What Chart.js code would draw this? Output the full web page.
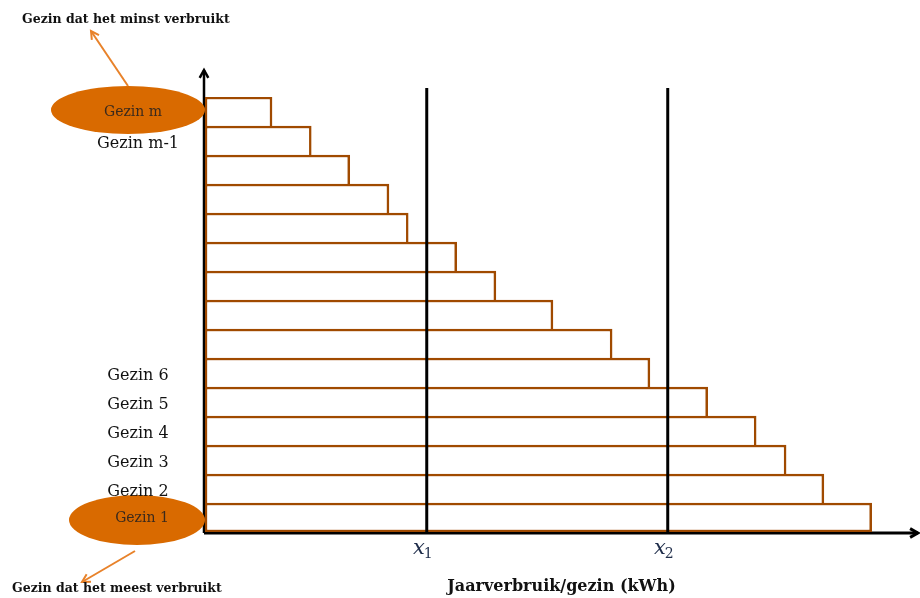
<!DOCTYPE html>
<html>
<head>
<meta charset="utf-8">
<script src="https://cdn.jsdelivr.net/npm/chart.js@4.4.1/dist/chart.umd.min.js"></script>
<style>
  html, body { margin: 0; padding: 0; background: #fff; }
  #wrap { width: 920px; height: 598px; position: relative; }
</style>
</head>
<body>
<div id="wrap"><canvas id="grafiek"></canvas></div>
<script>
// huishoudens van boven (minst verbruik) naar onder (meest verbruik)
const huishoudens = [
  "Gezin m", "Gezin m-1", "", "", "", "", "", "", "",
  "Gezin 6", "Gezin 5", "Gezin 4", "Gezin 3", "Gezin 2", "Gezin 1",
];
const verbruik = [
  9.4, 14.9, 20.3, 25.8, 28.5, 35.3, 40.8, 48.8, 57.1, 62.4,
  70.5, 77.3, 81.5, 86.8, 93.5,
];
// grenswaarden op de x-as
const grenzen = [31.1, 64.9];
const grensLabels = ["1", "2"];

const BRUIN = "#a04a00";
const ORANJE = "#d96a00";
const PIJL = "#e8822a";
const SERIF = "'DejaVu Serif', 'Liberation Serif', serif";

function pijl(ctx, x1, y1, x2, y2, kleur, breedte, kop) {
  ctx.save();
  ctx.strokeStyle = kleur;
  ctx.lineWidth = breedte;
  ctx.beginPath();
  ctx.moveTo(x1, y1);
  ctx.lineTo(x2, y2);
  ctx.stroke();
  const hoek = Math.atan2(y2 - y1, x2 - x1);
  ctx.beginPath();
  ctx.moveTo(x2 - kop * Math.cos(hoek - 0.5), y2 - kop * Math.sin(hoek - 0.5));
  ctx.lineTo(x2, y2);
  ctx.lineTo(x2 - kop * Math.cos(hoek + 0.5), y2 - kop * Math.sin(hoek + 0.5));
  ctx.stroke();
  ctx.restore();
}

const assenPlugin = {
  id: "assen",
  beforeDatasetsDraw(chart) {
    const { ctx, chartArea: a } = chart;
    // y-as met pijl
    pijl(ctx, a.left - 1, a.bottom + 1, a.left - 1, 70, "#000", 2.5, 9);
    // x-as met pijl
    pijl(ctx, a.left - 1, a.bottom + 1, 918, a.bottom + 1, "#000", 3, 9);
  },
  afterDatasetsDraw(chart) {
    const { ctx, chartArea: a, scales } = chart;
    const x = scales.x, y = scales.y;

    // verticale grenslijnen x1, x2
    ctx.save();
    ctx.strokeStyle = "#000";
    ctx.lineWidth = 3;
    grenzen.forEach((g, i) => {
      const px = x.getPixelForValue(g);
      ctx.beginPath();
      ctx.moveTo(px, 88);
      ctx.lineTo(px, a.bottom);
      ctx.stroke();

      // label x_i
      ctx.fillStyle = "#1f2d4a";
      ctx.textBaseline = "alphabetic";
      ctx.textAlign = "right";
      ctx.font = "italic 21px " + SERIF;
      ctx.fillText("x", px - 2, 554);
      ctx.textAlign = "left";
      ctx.font = "14px " + SERIF;
      ctx.fillText(grensLabels[i], px - 3, 558);
    });
    ctx.restore();

    // ovalen voor eerste en laatste gezin
    const ovalen = [
      { idx: 0, cx: 128, cy: 110, rx: 77, ry: 24, tx: 133 },
      { idx: huishoudens.length - 1, cx: 137, cy: 520, rx: 68, ry: 25, tx: 142 },
    ];
    ctx.save();
    ovalen.forEach((o) => {
      ctx.fillStyle = ORANJE;
      ctx.beginPath();
      ctx.ellipse(o.cx, o.cy, o.rx, o.ry, 0, 0, Math.PI * 2);
      ctx.fill();
    });
    ctx.restore();

    // labels van de gezinnen
    ctx.save();
    ctx.textAlign = "center";
    ctx.textBaseline = "middle";
    huishoudens.forEach((lbl, i) => {
      if (!lbl) return;
      const py = y.getPixelForValue(i);
      const ovaal = ovalen.find((o) => o.idx === i);
      if (ovaal) {
        ctx.fillStyle = "#3b2a1c";
        ctx.font = "14px " + SERIF;
        ctx.fillText(lbl, ovaal.tx, py + 1);
      } else {
        ctx.fillStyle = "#111";
        ctx.font = "16px " + SERIF;
        ctx.fillText(lbl, 138, py + 3);
      }
    });
    ctx.restore();

    // toelichtende teksten met pijlen
    pijl(ctx, 128, 86, 91, 31, PIJL, 2, 9);
    pijl(ctx, 135, 551, 82, 582, PIJL, 2, 9);
    ctx.save();
    ctx.fillStyle = "#111";
    ctx.font = "bold 12.5px " + SERIF;
    ctx.textBaseline = "middle";
    ctx.textAlign = "left";
    ctx.fillText("Gezin dat het minst verbruikt", 22, 20);
    ctx.fillText("Gezin dat het meest verbruikt", 12, 589);
    ctx.restore();
  },
};

new Chart(document.getElementById("grafiek"), {
  type: "bar",
  data: {
    labels: huishoudens,
    datasets: [
      {
        data: verbruik,
        backgroundColor: "#fff",
        borderColor: BRUIN,
        borderSkipped: false,
        borderWidth: (c) => ({
          top: 2.5,
          right: 2.5,
          left: 2.5,
          bottom: c.dataIndex === huishoudens.length - 1 ? 2.5 : 0,
        }),
        barPercentage: 1,
        categoryPercentage: 1,
      },
    ],
  },
  options: {
    indexAxis: "y",
    responsive: true,
    maintainAspectRatio: false,
    animation: false,
    layout: { padding: { top: 97, right: 2, left: 0, bottom: 0 } },
    plugins: { legend: { display: false }, tooltip: { enabled: false } },
    scales: {
      x: {
        min: 0,
        max: 100,
        grid: { display: false },
        border: { display: false },
        ticks: { display: false },
        title: {
          display: true,
          text: "Jaarverbruik/gezin (kWh)",
          color: "#111",
          font: { family: SERIF, size: 16, weight: "bold" },
          padding: { top: 0, bottom: 2 },
        },
        afterFit(scale) { scale.height = 66; },
      },
      y: {
        grid: { display: false },
        border: { display: false },
        ticks: { display: false },
        afterFit(scale) { scale.width = 205; },
      },
    },
  },
  plugins: [assenPlugin],
});
</script>
</body>
</html>
